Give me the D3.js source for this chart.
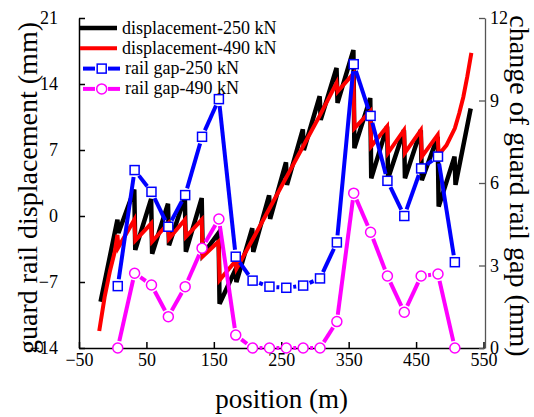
<!DOCTYPE html>
<html>
<head>
<meta charset="utf-8">
<title>Guard rail displacement and rail gap</title>
<script src="https://d3js.org/d3.v7.min.js"></script>
<style>
  body { margin: 0; background: #fff; }
  svg, svg text { font-family: "Liberation Serif", "Times New Roman", serif; }
</style>
</head>
<body>
<svg width="534" height="417"></svg>
<script>
// joint positions (m) where the rail gap was measured
var gapPos = [7.5, 32.5, 57.5, 82.5, 107.5, 132.5, 157.5, 182.5, 207.5, 232.5, 257.5,
              282.5, 307.5, 332.5, 357.5, 382.5, 407.5, 432.5, 457.5, 482.5, 507.5];
var gap250 = [2.25, 6.47, 5.68, 4.41, 5.56, 7.68, 9.05, 3.32, 2.45, 2.23, 2.19,
              2.27, 2.53, 3.84, 10.32, 8.44, 6.08, 4.80, 6.53, 6.96, 3.12];
var gap490 = [0, 2.72, 2.29, 1.14, 2.23, 3.63, 4.69, 0.47, 0, 0, 0,
              0, 0, 0.96, 5.63, 4.21, 2.62, 1.30, 2.62, 2.69, 0];

// guard rail displacement curves (mm)
var dispPos250 = [-18, 7, 8.5, 32, 33.5, 57, 58.5, 82, 83.5, 107, 108.5, 132, 133.5, 157, 158.5,
                  182, 183.5, 207, 208.5, 232, 233.5, 257, 258.5, 282, 283.5, 307, 308.5, 332, 333.5,
                  357, 358.5, 382, 383.5, 407, 408.5, 432, 433.5, 457, 458.5, 482, 483.5, 507, 508.5, 531];
var disp250 = [-9.1, -0.4, -1.8, 2.8, -3.6, 1.8, -4.0, 1.3, -3.1, 2.0, -3.8, 1.9, -4.1, -1.8, -9.3,
               -5.7, -7.0, -1.3, -3.8, 2.2, -0.3, 5.7, 3.3, 9.2, 7.0, 12.7, 10.2, 15.7, 12.0,
               17.6, 7.2, 12.5, 4.0, 9.5, 4.0, 9.1, 4.0, 9.1, 3.8, 8.4, 1.0, 6.3, 3.3, 11.4];
var dispPos490 = [-20, -12, -4, 3, 7, 8.5, 32, 33.5, 57, 58.5, 82, 83.5, 107, 108.5, 132, 133.5,
                  157, 158.5, 182, 183.5, 207.5, 232.5, 257.5, 282.5, 307.5, 332, 333.5, 357, 358.5,
                  382, 383.5, 407, 408.5, 432, 433.5, 457, 458.5, 482, 483.5, 495, 507.5, 514, 520, 526, 532];
var disp490 = [-12.2, -8.6, -5.8, -3.8, -2.0, -3.3, -0.4, -2.6, -0.8, -2.7, -0.8, -2.4, -0.4, -2.2, -0.4, -4.3,
               -2.7, -6.8, -4.8, -5.6, -2.5, 0.8, 4.1, 7.4, 10.7, 14.1, 13.2, 15.1, 9.3,
               11.1, 7.4, 9.5, 6.7, 9.1, 6.7, 9.1, 6.3, 8.6, 6.5, 7.5, 9.3, 10.9, 12.6, 14.8, 17.3];

var xTicks = [-50, 50, 150, 250, 350, 450, 550];
var yTicks = [-14, -7, 0, 7, 14, 21];
var y2Ticks = [0, 3, 6, 9, 12];

var svg = d3.select("svg"),
    mLeft = 79, mRight = 484, mTop = 18, mBottom = 348;

var x = d3.scaleLinear().domain([-50, 550]).range([mLeft, mRight - 0.5]);
var y = d3.scaleLinear().domain([-14, 21]).range([mBottom, mTop]);
var y2 = d3.scaleLinear().domain([0, 12]).range([mBottom, mTop]);

var fmt = d3.format("");

// axes (ticks point inward)
var xAxis = svg.append("g").attr("transform", "translate(0," + mBottom + ")")
    .call(d3.axisBottom(x).tickValues(xTicks).tickSizeInner(-6).tickSizeOuter(0).tickPadding(5).tickFormat(fmt));
var yAxis = svg.append("g").attr("transform", "translate(" + mLeft + ",0)")
    .call(d3.axisLeft(y).tickValues(yTicks).tickSizeInner(-6).tickSizeOuter(0).tickPadding(21).tickFormat(fmt));
var y2Axis = svg.append("g").attr("transform", "translate(" + (mRight + 1) + ",0)")
    .call(d3.axisRight(y2).tickValues(y2Ticks).tickSizeInner(-6).tickSizeOuter(0).tickPadding(5).tickFormat(fmt));

[xAxis, yAxis, y2Axis].forEach(function(a) {
  a.attr("font-family", null).attr("font-size", 18);
});
[xAxis, yAxis].forEach(function(a) {
  a.select(".domain").attr("stroke", "#000").attr("stroke-width", 1.5);
  a.selectAll(".tick line").attr("stroke", "#000").attr("stroke-width", 1.5);
});
y2Axis.select(".domain").attr("stroke", "#555").attr("stroke-width", 1.3);
y2Axis.selectAll(".tick line").attr("stroke", "#555").attr("stroke-width", 1.3);
svg.selectAll(".tick text").attr("fill", "#000");

// axis titles
svg.append("text")
    .attr("transform", "translate(37,188)rotate(-90)")
    .attr("text-anchor", "middle")
    .attr("font-size", 28)
    .text("guard rail displacement (mm)");
svg.append("text")
    .attr("transform", "translate(510,186)rotate(90)")
    .attr("text-anchor", "middle")
    .attr("font-size", 28)
    .text("change of guard rail gap (mm)");
svg.append("text")
    .attr("x", (mLeft + mRight) / 2)
    .attr("y", 408)
    .attr("text-anchor", "middle")
    .attr("font-size", 27)
    .text("position (m)");

// displacement lines
var line = d3.line();
function pts(px, py, ys) { return px.map(function(p, i) { return [x(p), ys(py[i])]; }); }

svg.append("path")
    .attr("d", line(pts(dispPos250, disp250, y)))
    .attr("fill", "none").attr("stroke", "#000").attr("stroke-width", 4.5);
svg.append("path")
    .attr("d", line(pts(dispPos490, disp490, y)))
    .attr("fill", "none").attr("stroke", "#ff0000").attr("stroke-width", 4);

// lines with a gap around each symbol
function gapSegments(p, gap) {
  var segs = [];
  for (var i = 0; i < p.length - 1; i++) {
    var dx = p[i + 1][0] - p[i][0], dy = p[i + 1][1] - p[i][1],
        len = Math.sqrt(dx * dx + dy * dy);
    if (len <= 2 * gap) continue;
    var ux = dx / len, uy = dy / len;
    segs.push([p[i][0] + ux * gap, p[i][1] + uy * gap, p[i + 1][0] - ux * gap, p[i + 1][1] - uy * gap]);
  }
  return segs;
}

function drawSymbols(g, p, color, shape) {
  if (shape == "square") {
    g.selectAll("rect").data(p).enter().append("rect")
        .attr("x", function(d) { return d[0] - 4.5; }).attr("y", function(d) { return d[1] - 4.5; })
        .attr("width", 9).attr("height", 9)
        .attr("fill", "#fff").attr("stroke", color).attr("stroke-width", 1.5);
  } else {
    g.selectAll("circle").data(p).enter().append("circle")
        .attr("cx", function(d) { return d[0]; }).attr("cy", function(d) { return d[1]; })
        .attr("r", 5)
        .attr("fill", "#fff").attr("stroke", color).attr("stroke-width", 1.5);
  }
}

function gapSeries(vals, color, shape) {
  var p = pts(gapPos, vals, y2);
  var g = svg.append("g");
  g.selectAll("line").data(gapSegments(p, 7)).enter().append("line")
      .attr("x1", function(d) { return d[0]; }).attr("y1", function(d) { return d[1]; })
      .attr("x2", function(d) { return d[2]; }).attr("y2", function(d) { return d[3]; })
      .attr("stroke", color).attr("stroke-width", 4);
  drawSymbols(g, p, color, shape);
}

gapSeries(gap250, "#0000ff", "square");
gapSeries(gap490, "#ff00ff", "circle");

// legend
var legendItems = [
  {label: "displacement-250 kN", color: "#000", width: 4.5, shape: null},
  {label: "displacement-490 kN", color: "#ff0000", width: 4, shape: null},
  {label: "rail gap-250 kN", color: "#0000ff", width: 4, shape: "square"},
  {label: "rail gap-490 kN", color: "#ff00ff", width: 4, shape: "circle"}
];
var legend = svg.append("g").selectAll("g").data(legendItems).enter().append("g")
    .attr("transform", function(d, i) { return "translate(0," + (28 + i * 20.3) + ")"; });
legend.each(function(d) {
  var g = d3.select(this);
  if (!d.shape) {
    g.append("line").attr("x1", 80).attr("x2", 117).attr("stroke", d.color).attr("stroke-width", d.width);
    g.append("text").attr("x", 122).attr("y", 5.5).attr("font-size", 18).text(d.label);
  } else {
    g.append("line").attr("x1", 83).attr("x2", 95).attr("stroke", d.color).attr("stroke-width", d.width);
    g.append("line").attr("x1", 108).attr("x2", 120).attr("stroke", d.color).attr("stroke-width", d.width);
    drawSymbols(g, [[101.7, 0]], d.color, d.shape);
    g.append("text").attr("x", 125).attr("y", 5.5).attr("font-size", 18).text(d.label);
  }
});
</script>
</body>
</html>
